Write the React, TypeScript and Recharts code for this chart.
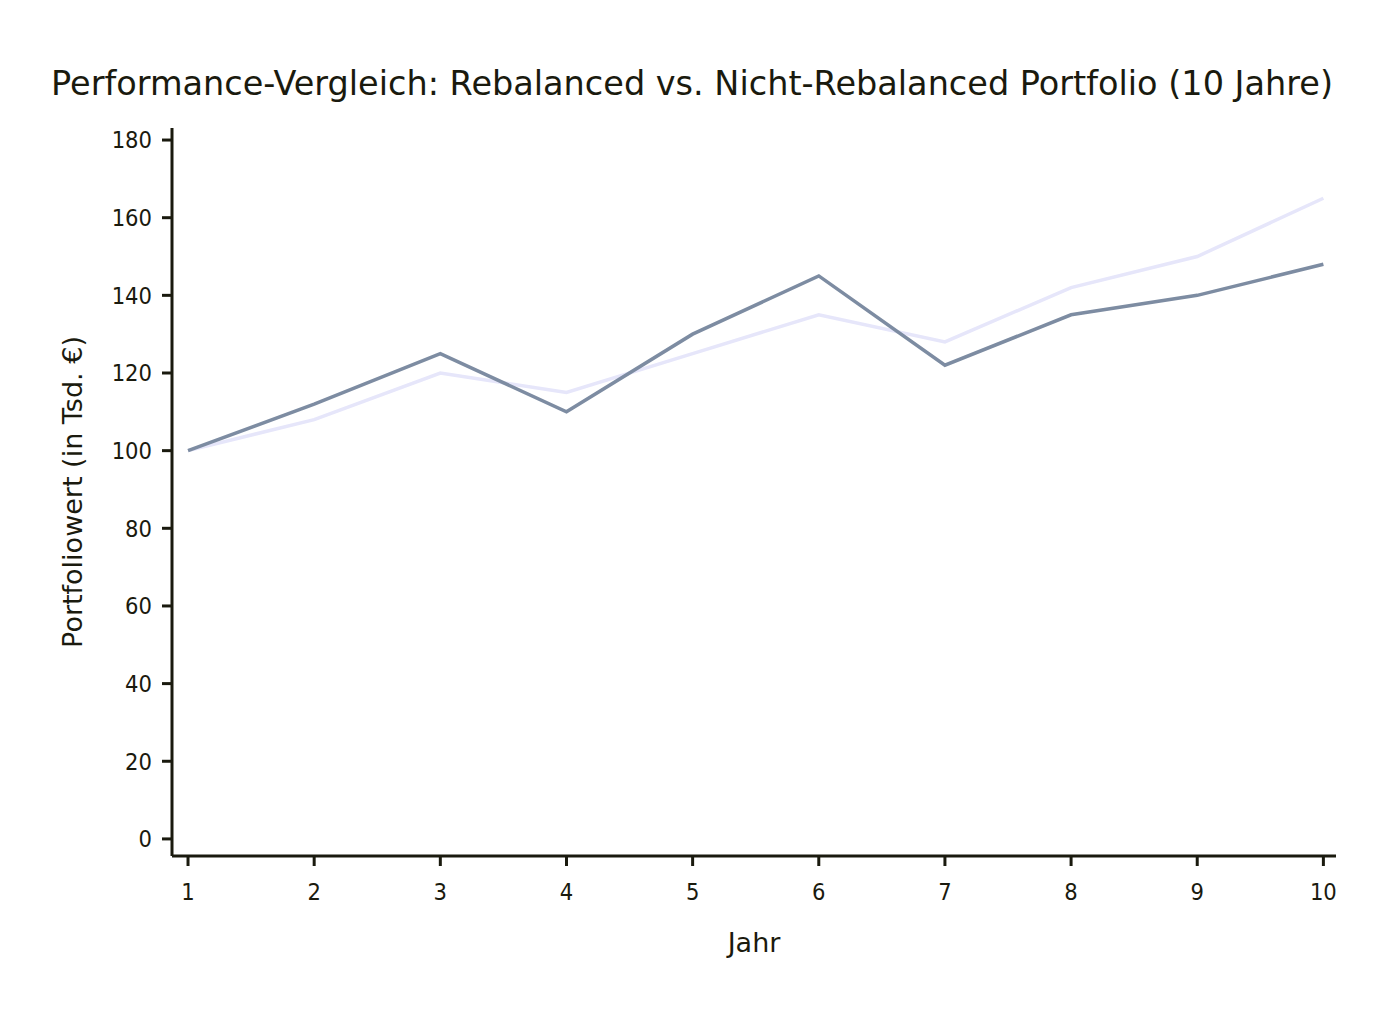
import React from 'react';
import { LineChart, Line, XAxis, YAxis } from 'recharts';

const years = [1, 2, 3, 4, 5, 6, 7, 8, 9, 10];
const rebalanced = [100, 112, 125, 110, 130, 145, 122, 135, 140, 148];
const nichtRebalanced = [100, 108, 120, 115, 125, 135, 128, 142, 150, 165];
const yTicks = [0, 20, 40, 60, 80, 100, 120, 140, 160, 180];

const data = years.map((y, i) => ({ jahr: y, reb: rebalanced[i], nreb: nichtRebalanced[i] }));

const FONT_C = '"DejaVu Sans Condensed", "DejaVu Sans", sans-serif';
const FONT = '"DejaVu Sans", sans-serif';
const INK = '#1a1a0e';

export default function App() {
  return (
    <div style={{ position: 'absolute', left: 0, top: 0, width: 1384, height: 1016, background: '#fff', fontFamily: FONT }}>
      <LineChart width={1384} height={1016} data={data} margin={{ top: 128, right: 48, bottom: 100, left: 112 }}>
        <text x={692} y={95} textAnchor="middle" fontSize={33.5} fill={INK} fontFamily={FONT}>
          Performance-Vergleich: Rebalanced vs. Nicht-Rebalanced Portfolio (10 Jahre)
        </text>
        <XAxis
          dataKey="jahr"
          type="number"
          domain={[0.873, 10.1]}
          allowDataOverflow
          ticks={years}
          tickSize={10}
          tickMargin={17}
          height={60}
          stroke={INK}
          axisLine={{ stroke: INK, strokeWidth: 3 }}
          tickLine={{ stroke: INK, strokeWidth: 3 }}
          tick={{ fill: INK, fontSize: 23.5, fontFamily: FONT_C }}
          label={{ value: 'Jahr', position: 'insideBottom', offset: -36, fill: INK, fontSize: 27, fontFamily: FONT }}
        />
        <YAxis
          type="number"
          domain={[-4.4, 183.1]}
          allowDataOverflow
          ticks={yTicks}
          tickSize={10}
          tickMargin={10}
          width={60}
          stroke={INK}
          axisLine={{ stroke: INK, strokeWidth: 3 }}
          tickLine={{ stroke: INK, strokeWidth: 3 }}
          tick={{ fill: INK, fontSize: 23.5, fontFamily: FONT_C }}
          label={{ value: 'Portfoliowert (in Tsd. €)', angle: -90, position: 'insideLeft', offset: 0, dx: -40, fill: INK, fontSize: 27, fontFamily: FONT, style: { textAnchor: 'middle' } }}
        />
        <Line dataKey="nreb" stroke="#e6e6fa" strokeWidth={3.5} dot={false} isAnimationActive={false} />
        <Line dataKey="reb" stroke="#7d8ca2" strokeWidth={3.5} dot={false} isAnimationActive={false} />
      </LineChart>
    </div>
  );
}
